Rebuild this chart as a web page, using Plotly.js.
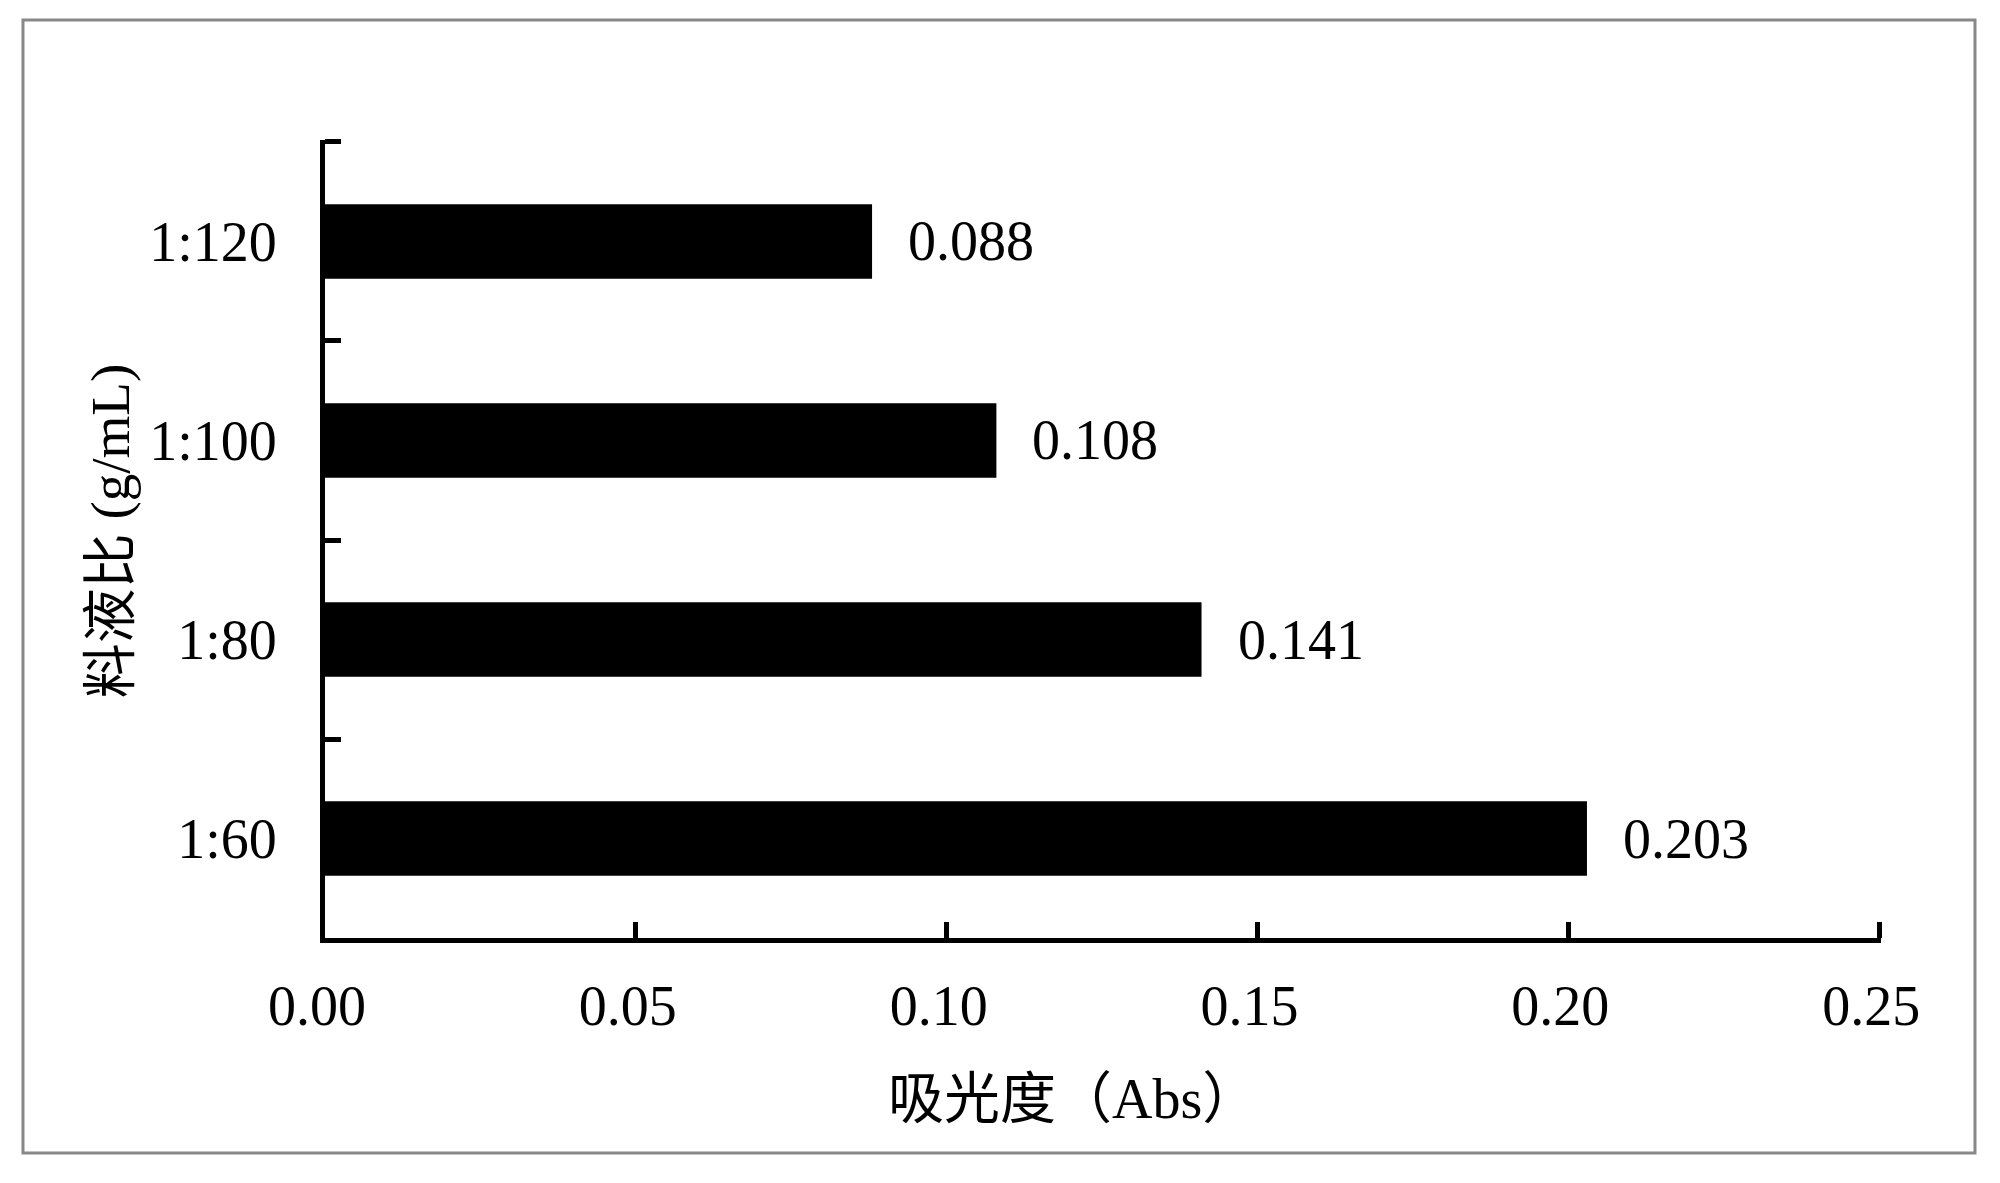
<!DOCTYPE html>
<html>
<head>
<meta charset="utf-8">
<script src="https://cdn.plot.ly/plotly-3.0.1.min.js"></script>
<style>html,body{margin:0;padding:0;background:#fff;}#chart{width:2000px;height:1183px;}</style>
</head>
<body>
<div id="chart"></div>
<script>
const categories = ['1:60', '1:80', '1:100', '1:120'];
const absorbance = [0.203, 0.141, 0.108, 0.088];
const valueLabels = ['0.203', '0.141', '0.108', '0.088'];
const xTickVals = [0, 0.05, 0.10, 0.15, 0.20, 0.25];
const xTickText = ['0.00', '0.05', '0.10', '0.15', '0.20', '0.25'];
const categoryBoundaries = [0.5, 1.5, 2.5, 3.5];
const xTitle = '吸光度（Abs）';
const yTitle = '料液比 (g/mL)';

const FONT = "'Liberation Serif', 'Times New Roman', 'Noto Sans CJK SC', serif";
const Y_RANGE = [-0.5, 3.51];

const trace = {
  type: 'bar',
  orientation: 'h',
  y: categories,
  x: absorbance,
  marker: {color: '#000000', line: {width: 0}},
  hoverinfo: 'skip'
};
const tickHolder = {
  type: 'scatter', mode: 'markers', x: [null], y: [null],
  yaxis: 'y2', hoverinfo: 'skip', showlegend: false
};

const annotations = categories.map((c, i) => ({
  x: absorbance[i], y: c, xref: 'x', yref: 'y',
  text: valueLabels[i], showarrow: false,
  xanchor: 'left', yanchor: 'middle', xshift: 34,
  font: {family: FONT, size: 56, color: '#000'}
}));

annotations.push({
  x: 0.481, y: -0.202, xref: 'paper', yref: 'paper',
  text: xTitle, showarrow: false, xanchor: 'center', yanchor: 'middle',
  font: {family: FONT, size: 56, color: '#000'}
});
annotations.push({
  x: -0.138, y: 0.51, xref: 'paper', yref: 'paper',
  text: yTitle, showarrow: false, textangle: -90, xanchor: 'center', yanchor: 'middle',
  font: {family: FONT, size: 55, color: '#000'}
});

const layout = {
  width: 2000, height: 1183,
  margin: {l: 325, r: 119, t: 140, b: 245},
  paper_bgcolor: '#fff', plot_bgcolor: '#fff',
  showlegend: false,
  bargap: 0.625,
  font: {family: FONT, size: 56, color: '#000'},
  xaxis: {
    range: [0, 0.2503],
    tickvals: xTickVals, ticktext: xTickText,
    showgrid: false, zeroline: false,
    showline: true, linecolor: '#000', linewidth: 5,
    ticks: 'inside', ticklen: 16, tickwidth: 5, tickcolor: '#000',
    ticklabelstandoff: 15,
    ticklabelshift: -8,
    tickfont: {family: FONT, size: 56, color: '#000'}
  },
  yaxis: {
    type: 'category',
    categoryorder: 'array', categoryarray: categories,
    range: Y_RANGE,
    showgrid: false, zeroline: false,
    showline: true, linecolor: '#000', linewidth: 5,
    ticks: '',
    ticklabelstandoff: 32,
    tickfont: {family: FONT, size: 56, color: '#000'}
  },
  yaxis2: {
    overlaying: 'y', side: 'left',
    range: Y_RANGE,
    tickvals: categoryBoundaries,
    showticklabels: false, showgrid: false, zeroline: false, showline: false,
    ticks: 'inside', ticklen: 16, tickwidth: 5, tickcolor: '#000'
  },
  annotations: annotations,
  shapes: [{
    type: 'rect', xref: 'paper', yref: 'paper',
    x0: -0.1941, x1: 1.0604, y0: -0.2694, y1: 1.1504,
    line: {color: '#888888', width: 3}, fillcolor: 'rgba(0,0,0,0)', layer: 'below'
  }]
};

Plotly.newPlot('chart', [trace, tickHolder], layout, {displayModeBar: false, staticPlot: true});
</script>
</body>
</html>
